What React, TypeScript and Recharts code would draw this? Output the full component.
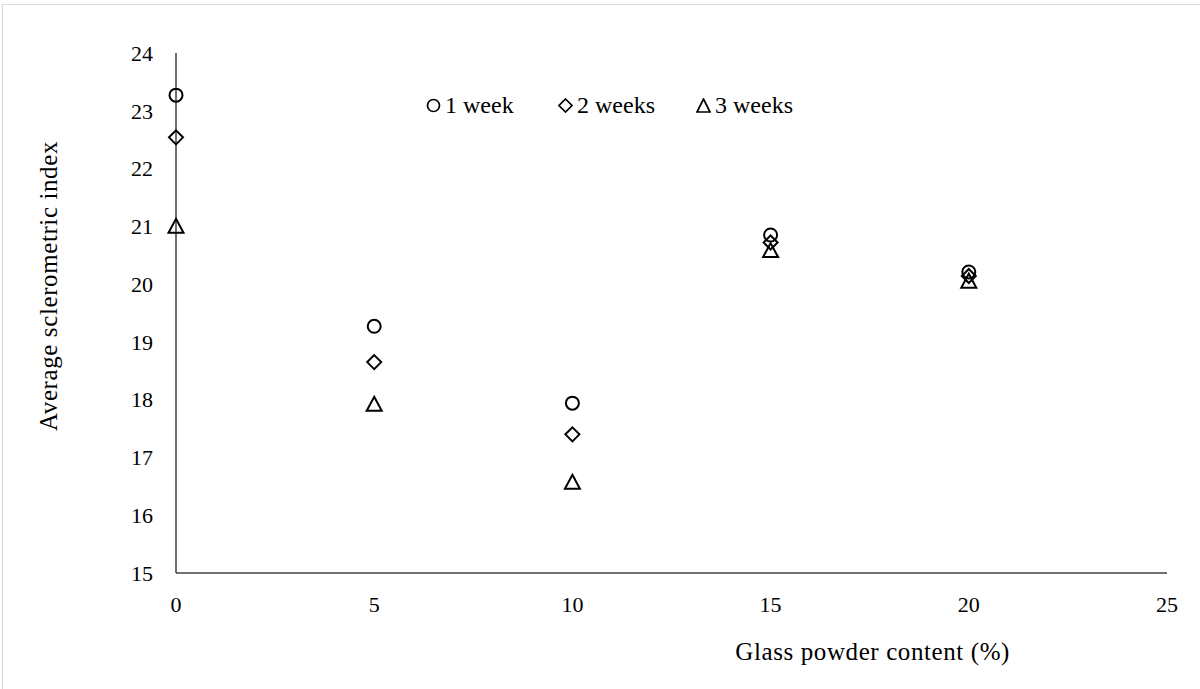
import { ScatterChart, Scatter, XAxis, YAxis } from 'recharts'

const glassContent = [0, 5, 10, 15, 20]
const week1 = [23.27, 19.27, 17.94, 20.85, 20.21]
const week2 = [22.54, 18.65, 17.4, 20.72, 20.14]
const week3 = [21.0, 17.92, 16.57, 20.58, 20.05]
const xTicks = [0, 5, 10, 15, 20, 25]
const yTicks = [15, 16, 17, 18, 19, 20, 21, 22, 23, 24]

const serif = '"Liberation Serif", "Times New Roman", serif'

const toPoints = (vals: number[]) => glassContent.map((x, i) => ({ x, y: vals[i] }))

const CircleShape = ({ cx, cy }: any) => (
  <circle cx={cx} cy={cy} r={6.5} fill="none" stroke="#000" strokeWidth={2} />
)

const DiamondShape = ({ cx, cy }: any) => (
  <polygon
    points={`${cx},${cy - 7} ${cx + 7},${cy} ${cx},${cy + 7} ${cx - 7},${cy}`}
    fill="none"
    stroke="#000"
    strokeWidth={2}
  />
)

const TriangleShape = ({ cx, cy }: any) => (
  <polygon
    points={`${cx},${cy - 7.5} ${cx + 7.5},${cy + 6.5} ${cx - 7.5},${cy + 6.5}`}
    fill="none"
    stroke="#000"
    strokeWidth={2}
  />
)

const legendItems = [
  { label: '1 week', left: 426, icon: <circle cx={7.5} cy={7.5} r={6} fill="none" stroke="#000" strokeWidth={1.7} /> },
  { label: '2 weeks', left: 558, icon: <polygon points="7.5,1 14,7.5 7.5,14 1,7.5" fill="none" stroke="#000" strokeWidth={1.7} /> },
  { label: '3 weeks', left: 696, icon: <polygon points="7.5,1 14,14 1,14" fill="none" stroke="#000" strokeWidth={1.7} /> },
]

// legend drawn as plain html so it does not eat into the plot area
const ChartLegend = () => (
  <>
    {legendItems.map((item) => (
      <div
        key={item.label}
        style={{
          position: 'absolute',
          left: item.left,
          top: 92,
          display: 'flex',
          alignItems: 'center',
          gap: 4,
          whiteSpace: 'nowrap',
          fontFamily: serif,
          fontSize: 24,
          color: '#000',
        }}
      >
        <svg width={15} height={15}>{item.icon}</svg>
        <span>{item.label}</span>
      </div>
    ))}
  </>
)

export default function App() {
  return (
    <div style={{ position: 'absolute', left: 0, top: 0, width: 1200, height: 689, background: '#fff', overflow: 'hidden' }}>
      <div
        style={{
          position: 'absolute',
          left: 2,
          top: 4,
          width: 1200,
          height: 700,
          border: '1.5px solid #d9d9d9',
          boxSizing: 'border-box',
        }}
      />
      <ScatterChart width={1200} height={689} margin={{ top: 53, right: 33, bottom: 86, left: 36 }}>
        <XAxis
          type="number"
          dataKey="x"
          domain={[0, 25]}
          ticks={xTicks}
          axisLine={{ stroke: '#404040', strokeWidth: 1.5 }}
          tickLine={false}
          tickSize={0}
          tickMargin={23}
          tick={{ fill: '#000', fontSize: 22, fontFamily: serif }}
          height={30}
          label={{
            content: ({ viewBox }: any) => (
              <text
                x={viewBox.x + viewBox.width * 0.703}
                y={viewBox.y + 78}
                textAnchor="middle"
                dominantBaseline="central"
                fontFamily={serif}
                fontSize={25}
                letterSpacing={0.6}
                fill="#000"
              >
                Glass powder content (%)
              </text>
            ),
          }}
        />
        <YAxis
          type="number"
          dataKey="y"
          domain={[15, 24]}
          ticks={yTicks}
          width={140}
          axisLine={{ stroke: '#404040', strokeWidth: 1.5 }}
          tickLine={false}
          tickSize={0}
          tickMargin={23}
          tick={{ fill: '#000', fontSize: 22, fontFamily: serif }}
          label={{
            content: ({ viewBox }: any) => (
              <text
                x={viewBox.x + 12}
                y={viewBox.y + viewBox.height / 2 - 27}
                transform={`rotate(-90, ${viewBox.x + 12}, ${viewBox.y + viewBox.height / 2 - 27})`}
                textAnchor="middle"
                dominantBaseline="central"
                fontFamily={serif}
                fontSize={25}
                letterSpacing={0.6}
                fill="#000"
              >
                Average sclerometric index
              </text>
            ),
          }}
        />
        <Scatter name="1 week" data={toPoints(week1)} shape={<CircleShape />} isAnimationActive={false} />
        <Scatter name="2 weeks" data={toPoints(week2)} shape={<DiamondShape />} isAnimationActive={false} />
        <Scatter name="3 weeks" data={toPoints(week3)} shape={<TriangleShape />} isAnimationActive={false} />
      </ScatterChart>
      <ChartLegend />
    </div>
  )
}
